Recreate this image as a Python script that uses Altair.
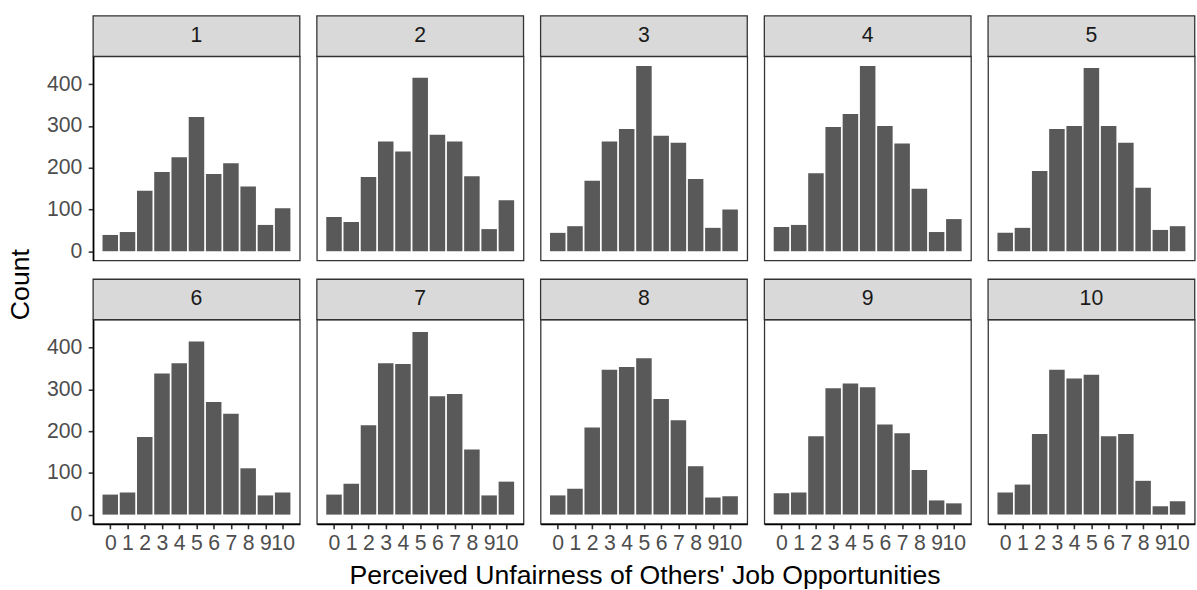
import altair as alt
import pandas as pd

# Facet groups and response scale
groups = list(range(1, 11))
scores = list(range(11))

# Counts per score (0..10) for each group
counts_g1 = [39, 46, 145, 190, 225, 322, 185, 211, 155, 63, 103]
counts_g2 = [82, 70, 178, 263, 239, 416, 279, 263, 180, 53, 122]
counts_g3 = [44, 60, 169, 263, 293, 444, 277, 260, 173, 56, 100]
counts_g4 = [58, 63, 187, 298, 329, 444, 300, 258, 150, 46, 77]
counts_g5 = [44, 56, 192, 293, 300, 439, 300, 260, 152, 51, 60]
counts_g6 = [48, 53, 186, 338, 363, 415, 270, 242, 111, 46, 53]
counts_g7 = [48, 74, 214, 363, 361, 438, 284, 289, 156, 46, 79]
counts_g8 = [46, 62, 209, 347, 354, 375, 277, 226, 116, 41, 44]
counts_g9 = [51, 53, 188, 303, 314, 305, 216, 195, 107, 34, 27]
counts_g10 = [53, 72, 193, 347, 326, 335, 188, 193, 81, 20, 32]

all_counts = [counts_g1, counts_g2, counts_g3, counts_g4, counts_g5,
              counts_g6, counts_g7, counts_g8, counts_g9, counts_g10]

rows = []
for g, cs in zip(groups, all_counts):
    for s, c in zip(scores, cs):
        rows.append({"group": g, "score": s, "count": c})
df = pd.DataFrame(rows)

W, H = 209.5, 207
STRIP = 41
FONT = "Liberation Sans"
N_COLS = 5
TICK_FONT = 21.5
TITLE_FONT = 27

x_scale = alt.Scale(domain=[-0.995, 10.995], nice=False, zero=False)
y_scale = alt.Scale(domain=[-22.25, 467.25], nice=False, zero=False)


def panel(g, idx):
    first_col = idx % N_COLS == 0
    bottom_row = idx >= N_COLS
    x_axis = alt.Axis(values=scores, title=None, labelOverlap=False,
                      labelPadding=4) if bottom_row else None
    y_axis = alt.Axis(values=[0, 100, 200, 300, 400], title=None,
                      labelPadding=6.5) if first_col else None

    base = alt.Chart(df).transform_filter(alt.datum.group == g)

    bars = base.transform_calculate(
        lo="datum.score - 0.45", hi="datum.score + 0.45"
    ).mark_bar(color="#595959").encode(
        x=alt.X("lo:Q", scale=x_scale, axis=x_axis),
        x2="hi:Q",
        y=alt.Y("count:Q", scale=y_scale, axis=y_axis),
        y2=alt.datum(0),
    )

    label_data = base.transform_aggregate(n="count()", groupby=["group"])

    strip = label_data.mark_rect(
        fill="#D9D9D9", stroke="#333333", strokeWidth=1.3
    ).encode(x=alt.value(0), x2=alt.value(W), y=alt.value(-STRIP), y2=alt.value(0))

    strip_text = label_data.mark_text(
        font=FONT, fontSize=TICK_FONT, color="#1A1A1A", baseline="middle",
        align="center"
    ).encode(x=alt.value(W / 2), y=alt.value(-STRIP / 2), text="group:N")

    return alt.layer(bars, strip, strip_text).properties(width=W, height=H)


panels = [panel(g, i) for i, g in enumerate(groups)]
top_row = alt.hconcat(*panels[:N_COLS], spacing=13.8)
bottom_row = alt.hconcat(*panels[N_COLS:], spacing=13.8)

grid = alt.vconcat(top_row, bottom_row, spacing=15).properties(
    title=alt.TitleParams("Count", orient="left", anchor="middle", font=FONT,
                          fontSize=TITLE_FONT, fontWeight="normal",
                          color="#000000", offset=11)
)

# x title centred over the panel block rather than the whole figure
chart = alt.vconcat(grid).properties(
    title=alt.TitleParams("Perceived Unfairness of Others' Job Opportunities",
                          orient="bottom", anchor="middle", font=FONT,
                          fontSize=TITLE_FONT, fontWeight="normal",
                          color="#000000", offset=9, dx=44),
    padding={"left": 6.4, "top": 10, "right": 1, "bottom": 0},
).configure_view(
    stroke="#333333", strokeWidth=1.3
).configure_axis(
    labelFont=FONT, labelFontSize=TICK_FONT, labelColor="#4D4D4D",
    domainColor="#000000", domainWidth=1.6,
    tickColor="#333333", tickSize=5, tickWidth=1.6, grid=False,
)

chart.save("out.html", embed_options={"renderer": "svg", "actions": False})
